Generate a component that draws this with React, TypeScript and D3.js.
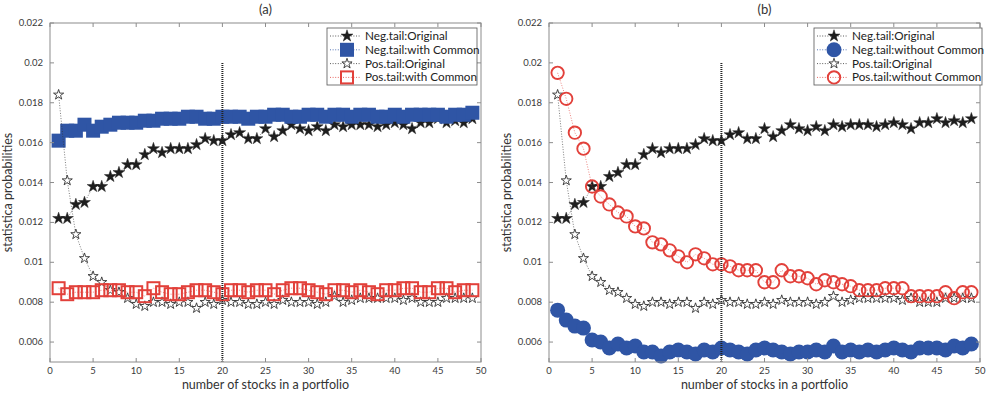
import React from 'react';
import * as d3 from 'd3';

const portfolioSizes = d3.range(1, 50);

const negOriginal = [
  0.0122, 0.0122, 0.0129, 0.0130, 0.0138, 0.0138, 0.0143, 0.0145, 0.0149, 0.0149,
  0.0154, 0.0157, 0.0155, 0.0157, 0.0157, 0.0157, 0.0159, 0.0162, 0.0161, 0.0161,
  0.0164, 0.0165, 0.0162, 0.0162, 0.0167, 0.0163, 0.0166, 0.0169, 0.0167, 0.0166,
  0.0168, 0.0166, 0.0169, 0.0168, 0.0169, 0.0169, 0.0169, 0.0168, 0.0169, 0.0170,
  0.0169, 0.0167, 0.0170, 0.0170, 0.0172, 0.0170, 0.0171, 0.0170, 0.0172,
];
const negWithCommon = [
  0.0161, 0.0166, 0.0166, 0.0169, 0.0166, 0.0168, 0.0169, 0.0170, 0.0170, 0.0170,
  0.0171, 0.0171, 0.0172, 0.0172, 0.0172, 0.0173, 0.0173, 0.0172, 0.0172, 0.0173,
  0.0173, 0.0173, 0.0172, 0.0173, 0.0173, 0.0174, 0.0174, 0.0173, 0.0173, 0.0174,
  0.0174, 0.0173, 0.0174, 0.0174, 0.0173, 0.0174, 0.0174, 0.0173, 0.0173, 0.0174,
  0.0173, 0.0174, 0.0174, 0.0174, 0.0174, 0.0173, 0.0174, 0.0174, 0.0175,
];
const posOriginal = [
  0.0184, 0.0141, 0.0114, 0.0102, 0.0093, 0.0090, 0.0086, 0.0085, 0.0082, 0.0079,
  0.0078, 0.0080, 0.0080, 0.0079, 0.0080, 0.0080, 0.0077, 0.0080, 0.0079, 0.0081,
  0.0080, 0.0080, 0.0079, 0.0079, 0.0080, 0.0079, 0.0081, 0.0080, 0.0080, 0.0080,
  0.0079, 0.0080, 0.0083, 0.0080, 0.0081, 0.0082, 0.0082, 0.0082, 0.0082, 0.0082,
  0.0081, 0.0082, 0.0080, 0.0080, 0.0080, 0.0082, 0.0082, 0.0082, 0.0082,
];
const posWithCommon = [
  0.0087, 0.0084, 0.0085, 0.0085, 0.0085, 0.0086, 0.0086, 0.0086, 0.0085, 0.0085,
  0.0083, 0.0087, 0.0085, 0.0084, 0.0084, 0.0085, 0.0086, 0.0086, 0.0085, 0.0084,
  0.0086, 0.0086, 0.0085, 0.0086, 0.0086, 0.0084, 0.0086, 0.0087, 0.0087, 0.0086,
  0.0085, 0.0084, 0.0086, 0.0086, 0.0085, 0.0086, 0.0085, 0.0084, 0.0086, 0.0086,
  0.0087, 0.0087, 0.0085, 0.0085, 0.0087, 0.0087, 0.0085, 0.0086, 0.0086,
];
const negWithoutCommon = [
  0.0076, 0.0071, 0.0068, 0.0067, 0.0061, 0.0060, 0.0057, 0.0059, 0.0057, 0.0058,
  0.0055, 0.0055, 0.0053, 0.0055, 0.0056, 0.0055, 0.0054, 0.0056, 0.0055, 0.0057,
  0.0056, 0.0055, 0.0054, 0.0056, 0.0057, 0.0056, 0.0055, 0.0054, 0.0055, 0.0055,
  0.0056, 0.0055, 0.0058, 0.0055, 0.0056, 0.0055, 0.0056, 0.0055, 0.0056, 0.0057,
  0.0056, 0.0055, 0.0057, 0.0057, 0.0057, 0.0056, 0.0058, 0.0057, 0.0059,
];
const posWithoutCommon = [
  0.0195, 0.0182, 0.0165, 0.0157, 0.0138, 0.0133, 0.0129, 0.0125, 0.0123, 0.0118,
  0.0117, 0.0110, 0.0109, 0.0106, 0.0103, 0.0100, 0.0104, 0.0102, 0.0099, 0.0099,
  0.0098, 0.0096, 0.0096, 0.0096, 0.0090, 0.0090, 0.0096, 0.0093, 0.0093, 0.0092,
  0.0089, 0.0091, 0.0090, 0.0089, 0.0088, 0.0086, 0.0086, 0.0086, 0.0087, 0.0087,
  0.0087, 0.0083, 0.0083, 0.0083, 0.0083, 0.0085, 0.0082, 0.0085, 0.0085,
];

const xTicks = [0, 5, 10, 15, 20, 25, 30, 35, 40, 45, 50];
const yTicks = [0.006, 0.008, 0.01, 0.012, 0.014, 0.016, 0.018, 0.02, 0.022];
const xDomain = [0, 50];
const yDomain = [0.005, 0.022];
const markerLine = 20;

const BLUE = '#2f55a5';
const RED = '#e2403a';
const BLACK = '#1e1e1e';
const FONT = 'Lato, "Open Sans", sans-serif';

type Kind = 'starFilled' | 'starOpen' | 'squareFilled' | 'squareOpen' | 'circleFilled' | 'circleOpen';
interface Series { name: string; values: number[]; kind: Kind; color: string; }

const starPath = (size: number) => d3.symbol(d3.symbolStar, size)() as string;

function Marker({ kind, x, y }: { kind: Kind; x: number; y: number }) {
  switch (kind) {
    case 'starFilled':
      return <path d={starPath(44)} transform={`translate(${x},${y})`} fill={BLACK} stroke={BLACK} strokeWidth={0.5} />;
    case 'starOpen':
      return <path d={starPath(32)} transform={`translate(${x},${y})`} fill="white" stroke="#333" strokeWidth={0.9} />;
    case 'squareFilled':
      return <rect x={x - 7} y={y - 7} width={14} height={14} fill={BLUE} />;
    case 'squareOpen':
      return <rect x={x - 6} y={y - 6} width={12} height={12} fill="none" stroke={RED} strokeWidth={2} />;
    case 'circleFilled':
      return <circle cx={x} cy={y} r={7.5} fill={BLUE} />;
    case 'circleOpen':
      return <circle cx={x} cy={y} r={6.2} fill="none" stroke={RED} strokeWidth={1.9} />;
  }
  return null;
}

function Panel({ left, title, series, legendX, legendW }: { left: number; title: string; series: Series[]; legendX: number; legendW: number }) {
  const width = 431;
  const top = 23;
  const bottom = 362;
  const x = d3.scaleLinear().domain(xDomain).range([left, left + width]);
  const y = d3.scaleLinear().domain(yDomain).range([bottom, top]);
  const line = d3.line<number>().x((_, i) => x(portfolioSizes[i])).y((d) => y(d));
  const axisColor = '#8c8c8c';
  const tickColor = '#3a3a3a';
  const fmt = (v: number) => String(+v.toFixed(3));
  const legendTop = 28;
  const rowH = 13.8;
  return (
    <g>
      <text x={left + width / 2} y={14} textAnchor="middle" fontSize={13} fill="#333" fontFamily={FONT}>{title}</text>
      <rect x={left} y={top} width={width} height={bottom - top} fill="white" stroke="none" />
      {series.map((s) => (
        <g key={s.name}>
          <path d={line(s.values) as string} fill="none" stroke={s.color} strokeWidth={0.8} strokeDasharray="1 1.6" opacity={0.8} />
          {s.values.map((v, i) => (
            <Marker key={i} kind={s.kind} x={x(portfolioSizes[i])} y={y(v)} />
          ))}
        </g>
      ))}
      <line x1={x(markerLine)} x2={x(markerLine)} y1={y(0.02)} y2={y(yDomain[0])} stroke="#222" strokeWidth={2} strokeDasharray="1 1" />
      <rect x={left} y={top} width={width} height={bottom - top} fill="none" stroke={axisColor} strokeWidth={1} />
      {xTicks.map((t) => (
        <g key={'x' + t}>
          <line x1={x(t)} x2={x(t)} y1={bottom} y2={bottom - 4} stroke={axisColor} />
          <line x1={x(t)} x2={x(t)} y1={top} y2={top + 4} stroke={axisColor} />
          <text x={x(t)} y={bottom + 12} textAnchor="middle" fontSize={9.5} fill={tickColor} fontFamily={FONT}>{t}</text>
        </g>
      ))}
      {yTicks.map((t) => (
        <g key={'y' + t}>
          <line x1={left} x2={left + 4} y1={y(t)} y2={y(t)} stroke={axisColor} />
          <line x1={left + width} x2={left + width - 4} y1={y(t)} y2={y(t)} stroke={axisColor} />
          <text x={left - 7} y={y(t) + 3} textAnchor="end" fontSize={9.5} fill={tickColor} fontFamily={FONT}>{fmt(t)}</text>
        </g>
      ))}
      <text x={left + width / 2} y={389} textAnchor="middle" fontSize={12.5} fill="#333" fontFamily={FONT}>number of stocks in a portfolio</text>
      <text transform={`translate(${left - 38},${(top + bottom) / 2}) rotate(-90)`} textAnchor="middle" fontSize={12.5} fill="#333" fontFamily={FONT}>statistica probabilities</text>
      <rect x={legendX} y={legendTop} width={legendW} height={57} fill="white" stroke="#555" strokeWidth={0.8} />
      {series.map((s, i) => {
        const cy = legendTop + 8 + i * rowH;
        return (
          <g key={'lg' + s.name}>
            <line x1={legendX + 3} x2={legendX + 34} y1={cy} y2={cy} stroke={s.color} strokeWidth={0.8} strokeDasharray="1 1.6" />
            <Marker kind={s.kind} x={legendX + 20} y={cy} />
            <text x={legendX + 38} y={cy + 4} fontSize={11.7} fill="#222" fontFamily={FONT}>{s.name}</text>
          </g>
        );
      })}
    </g>
  );
}

export default function App() {
  const seriesA: Series[] = [
    { name: 'Neg.tail:Original', values: negOriginal, kind: 'starFilled', color: '#333' },
    { name: 'Neg.tail:with Common', values: negWithCommon, kind: 'squareFilled', color: BLUE },
    { name: 'Pos.tail:Original', values: posOriginal, kind: 'starOpen', color: '#333' },
    { name: 'Pos.tail:with Common', values: posWithCommon, kind: 'squareOpen', color: RED },
  ];
  const seriesB: Series[] = [
    { name: 'Neg.tail:Original', values: negOriginal, kind: 'starFilled', color: '#333' },
    { name: 'Neg.tail:without Common', values: negWithoutCommon, kind: 'circleFilled', color: BLUE },
    { name: 'Pos.tail:Original', values: posOriginal, kind: 'starOpen', color: '#333' },
    { name: 'Pos.tail:without Common', values: posWithoutCommon, kind: 'circleOpen', color: RED },
  ];
  return (
    <svg width={989} height={394} style={{ position: 'absolute', left: 0, top: 0, background: 'white' }}>
      <Panel left={50} title="(a)" series={seriesA} legendX={327} legendW={150} />
      <Panel left={549} title="(b)" series={seriesB} legendX={814} legendW={168} />
    </svg>
  );
}
